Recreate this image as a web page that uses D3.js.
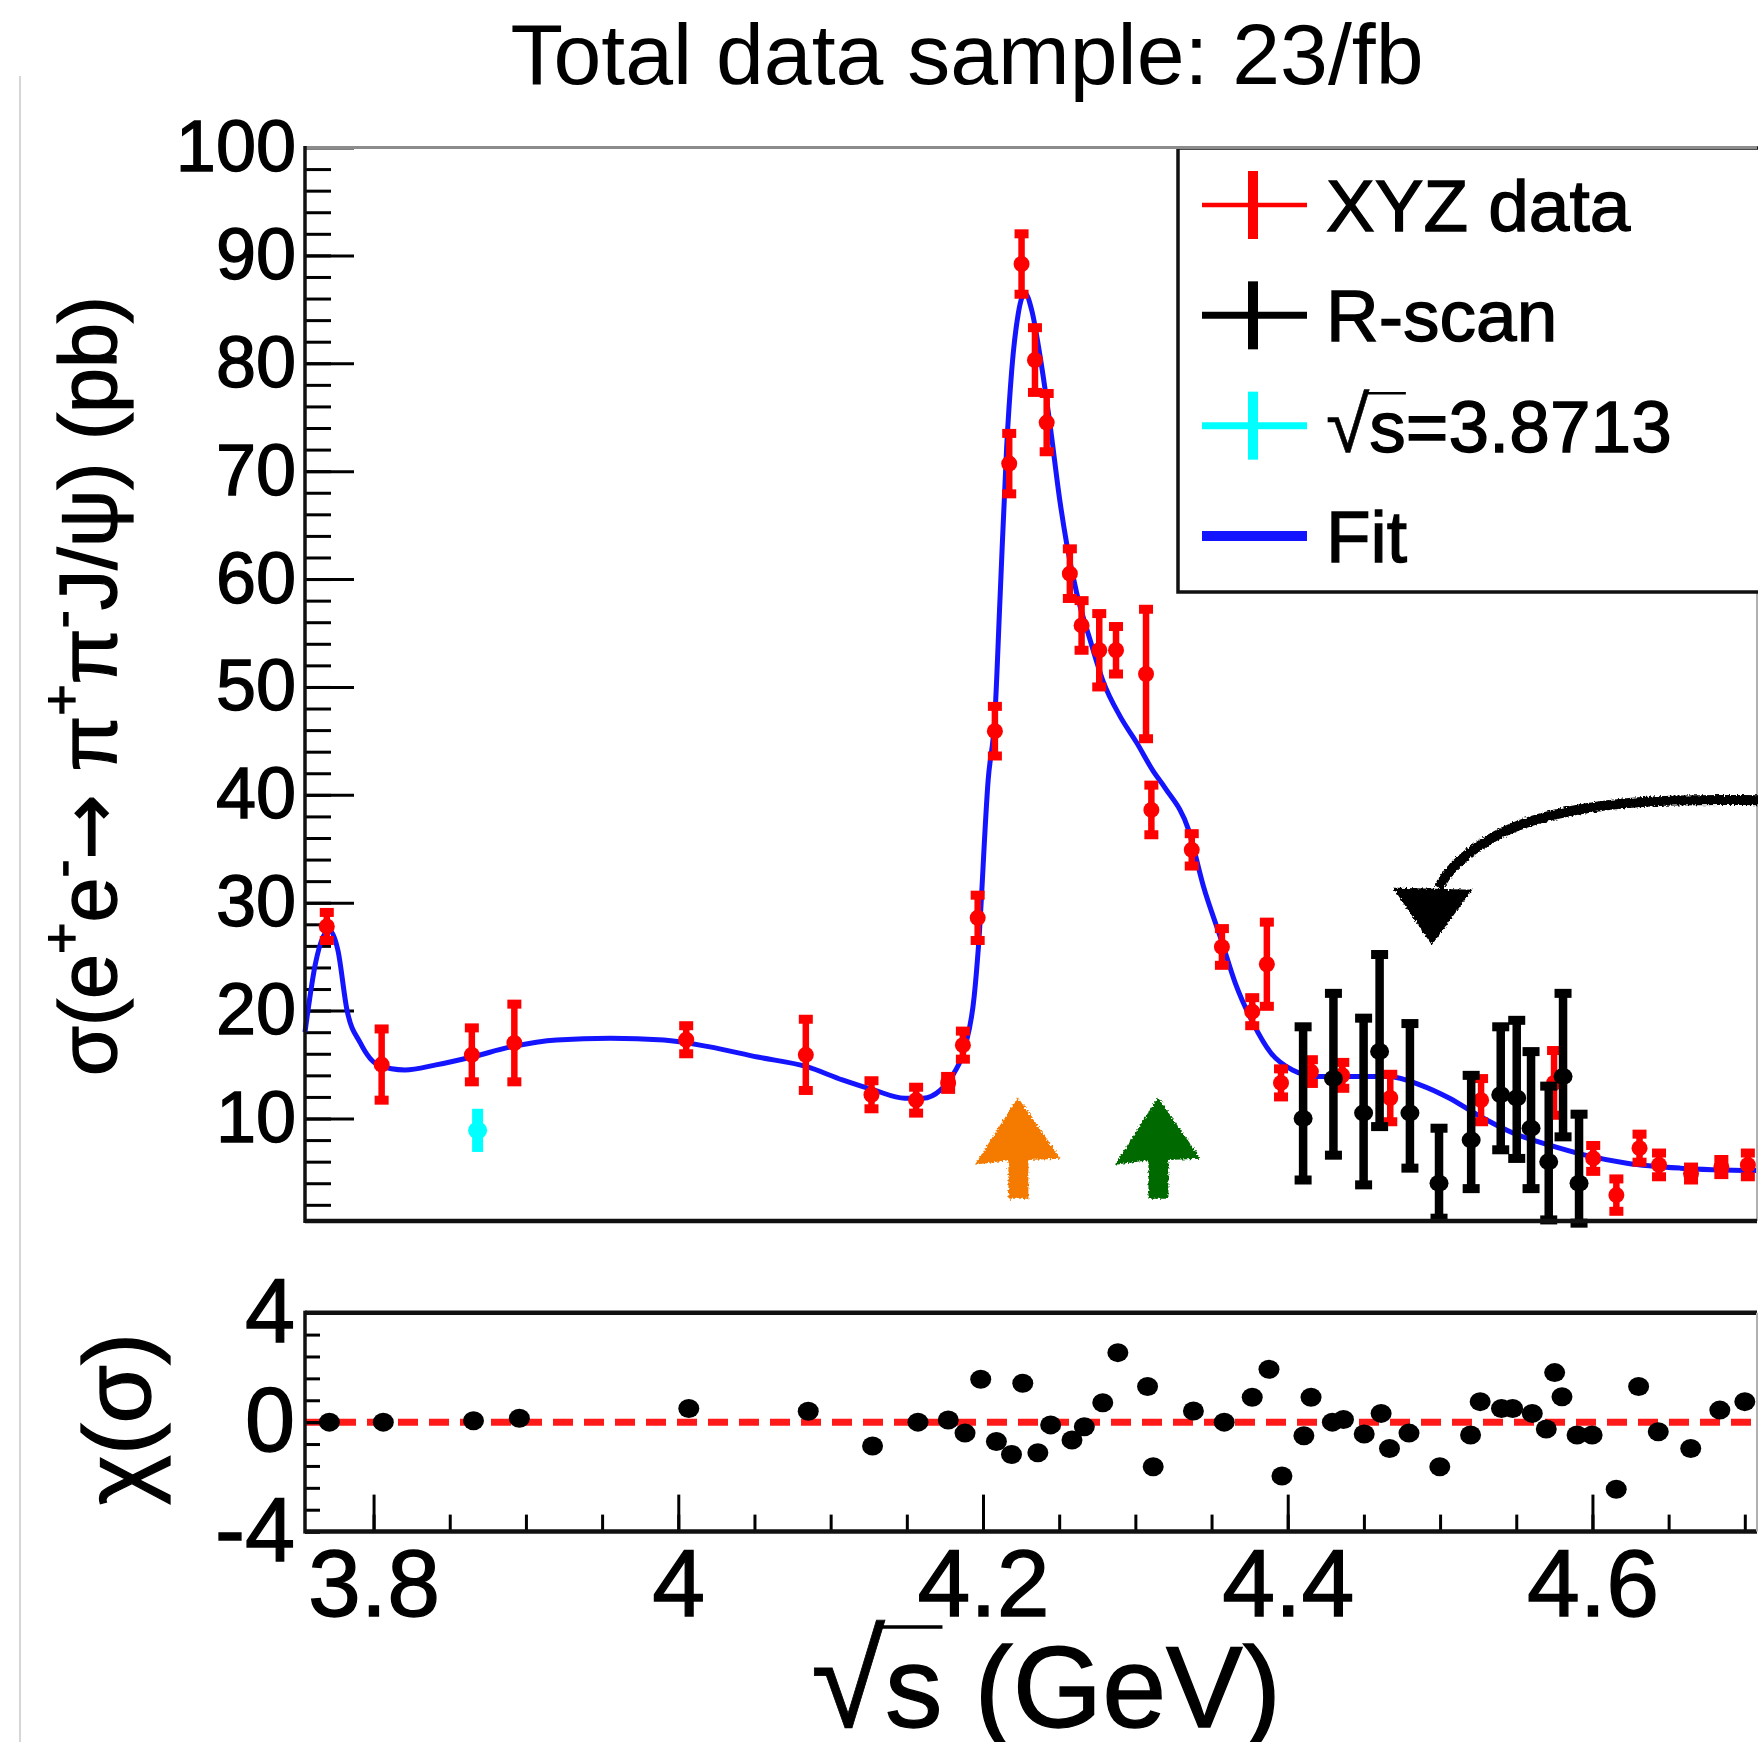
<!DOCTYPE html>
<html>
<head>
<meta charset="utf-8">
<script src="https://cdn.jsdelivr.net/npm/d3@7"></script>
<style>
  body { margin: 0; background: #fff; }
  text { font-family: "Liberation Sans", Arial, Helvetica, sans-serif; }
  .heavy text, text.heavy { stroke: #000; stroke-width: 1.3px; }
</style>
</head>
<body>
<svg id="chart"></svg>
<script>
let width = 1758;
let height = 1742;
let red = "#ff0000";
let blue = "#1414ff";
let cyan = "#00ffff";

// XYZ data (red)
const xyzEnergy = [3.7693, 3.8053, 3.8645, 3.8924, 4.0052, 4.0837, 4.1268, 4.1561, 4.1771, 4.1868,
  4.1965, 4.2078, 4.2172, 4.2253, 4.2341, 4.2418, 4.2570, 4.2647, 4.2763, 4.2873,
  4.3070, 4.3105, 4.3370, 4.3568, 4.3767, 4.3863, 4.3956, 4.4152, 4.4358, 4.4673,
  4.5269, 4.5748, 4.6005, 4.6157, 4.6309, 4.6437, 4.6647, 4.6846, 4.7020];
const xyzSigma = [27.8, 15.0, 15.9, 17.0, 17.3, 15.9, 12.2, 11.7, 13.3, 16.8,
  28.6, 45.9, 70.7, 89.2, 80.3, 74.5, 60.5, 55.7, 53.4, 53.4,
  51.2, 38.6, 34.9, 25.9, 19.9, 24.3, 13.3, 14.35, 14.0, 11.9,
  11.7, 13.3, 6.3, 2.9, 7.25, 5.7, 4.9, 5.5, 5.7];
const xyzError = [1.3, 3.3, 2.5, 3.6, 1.3, 3.3, 1.3, 1.2, 0.6, 1.3,
  2.1, 2.3, 2.8, 2.8, 3.0, 2.7, 2.3, 2.3, 3.4, 2.2,
  6.0, 2.3, 1.5, 1.7, 1.3, 3.9, 1.3, 1.1, 1.2, 2.2,
  2.0, 3.0, 1.2, 1.5, 1.3, 1.1, 0.6, 0.7, 1.1];

// R-scan data (black), asymmetric errors
const rscanEnergy = [4.4101, 4.4300, 4.4498, 4.4603, 4.4802, 4.4993, 4.5204, 4.5398, 4.5503, 4.5597, 4.5713, 4.5807, 4.5912];
const rscanSigma = [10.0, 13.7, 10.5, 16.2, 10.5, 4.0, 8.0, 12.2, 11.9, 9.1, 6.0, 13.9, 4.0];
const rscanErrDown = [5.7, 7.1, 6.65, 6.95, 5.1, 3.24, 4.5, 5.1, 5.6, 5.6, 5.4, 5.6, 3.7];
const rscanErrUp = [8.5, 7.9, 8.8, 9.0, 8.3, 5.1, 6.0, 6.3, 7.2, 7.1, 7.0, 7.7, 6.4];

// sqrt(s) = 3.8713 point (cyan)
const cyanEnergy = [3.8683];
const cyanSigma = [8.9];
const cyanError = [2.0];

// fit curve (blue)
const fitEnergy = [3.7550, 3.7619, 3.7707, 3.7766, 3.7825, 3.7913, 3.8030, 3.8206, 3.8410, 3.8645,
  3.8908, 3.9202, 3.9554, 3.9905, 4.0198, 4.0520, 4.0843, 4.1077, 4.1282, 4.1487,
  4.1605, 4.1722, 4.1809, 4.1883, 4.1942, 4.1970, 4.2034, 4.2078, 4.2111, 4.2155,
  4.2188, 4.2231, 4.2275, 4.2320, 4.2374, 4.2440, 4.2505, 4.2549, 4.2615, 4.2702,
  4.2789, 4.2899, 4.3008, 4.3117, 4.3197, 4.3348, 4.3447, 4.3564, 4.3657, 4.3774,
  4.3891, 4.4031, 4.4194, 4.4428, 4.4662, 4.4872, 4.5059, 4.5246, 4.5479, 4.5713,
  4.5946, 4.6226, 4.6577, 4.7080];
const fitSigma = [18.0, 24.4, 27.5, 25.6, 20.1, 17.0, 14.97, 14.5, 14.97, 15.7,
  16.66, 17.28, 17.44, 17.28, 16.66, 15.7, 14.8, 13.58, 12.65, 11.88,
  11.88, 12.65, 14.2, 16.66, 21.3, 25.9, 41.4, 47.3, 57.97, 72.16,
  79.26, 84.57, 86.5, 84.9, 80.7, 74.3, 67.2, 63.3, 58.7, 54.4,
  50.5, 47.3, 44.85, 42.2, 40.6, 36.8, 31.5, 26.55, 22.5, 18.8,
  16.05, 14.5, 13.9, 13.9, 13.9, 13.1, 11.9, 10.33, 8.66, 7.55,
  6.63, 5.86, 5.4, 5.17];

// residuals chi(sigma)
const residualEnergy = [3.7710, 3.8064, 3.8656, 3.8957, 4.0069, 4.0853, 4.1275, 4.1573, 4.1772, 4.1882,
  4.1985, 4.2088, 4.2187, 4.2261, 4.2360, 4.2444, 4.2584, 4.2665, 4.2786, 4.2885,
  4.3080, 4.3117, 4.3381, 4.3583, 4.3767, 4.3877, 4.3962, 4.4106, 4.4153, 4.4293,
  4.4366, 4.4502, 4.4613, 4.4668, 4.4796, 4.4998, 4.5200, 4.5263, 4.5403, 4.5476,
  4.5605, 4.5697, 4.5752, 4.5800, 4.5899, 4.5998, 4.6156, 4.6303, 4.6432, 4.6645,
  4.6836, 4.7000];
const residualChi = [0.0, 0.0, 0.05, 0.14, 0.5, 0.4, -0.87, 0.0, 0.08, -0.4,
  1.57, -0.71, -1.18, 1.42, -1.12, -0.1, -0.65, -0.17, 0.71, 2.54,
  1.3, -1.63, 0.41, 0.0, 0.91, 1.93, -1.97, -0.5, 0.91, 0.0,
  0.1, -0.43, 0.32, -0.96, -0.4, -1.63, -0.47, 0.75, 0.5, 0.5,
  0.32, -0.25, 1.81, 0.93, -0.47, -0.47, -2.45, 1.3, -0.35, -0.96,
  0.44, 0.75];

// axis ticks and labels
const xMajorTicks = [3.8, 4.0, 4.2, 4.4, 4.6];
const xTickLabels = ["3.8", "4", "4.2", "4.4", "4.6"];
const xMinorTicks = d3.range(0, 19).map(i => +(3.8 + i * 0.05).toFixed(2));
const yMajorTicks = d3.range(10, 101, 10);
const yMinorTicks = d3.range(2, 100, 2);
const resMajorTicks = [-4, 0, 4];
const resMinorTicks = d3.range(0, 11).map(i => +(-4 + i * 0.8).toFixed(1));

const legendLabels = ["XYZ data", "R-scan", "s=3.8713", "Fit"];
const legendColors = [red, "#000", cyan, blue];

// hand drawn annotations, in data units: [energy, sigma]
const upArrows = [{e: 4.2229, color: "#f47a00"}, {e: 4.3148, color: "#006b00"}];
const bigArrowPath = [[4.712, 39.5], [4.627, 39.6], [4.5625, 38.0], [4.529, 35.8], [4.507, 33.3], [4.499, 31.4]];
const bigArrowHead = [[4.4716, 31.2], [4.5186, 31.03], [4.4946, 26.4]];

let svg = d3.select("#chart")
  .attr("width", width)
  .attr("height", height);

let defs = svg.append("defs");
let rough = defs.append("filter").attr("id", "rough")
  .attr("x", "-10%").attr("y", "-10%").attr("width", "120%").attr("height", "120%");
rough.append("feTurbulence").attr("type", "fractalNoise").attr("baseFrequency", 0.5)
  .attr("numOctaves", 2).attr("result", "noise");
rough.append("feDisplacementMap").attr("in", "SourceGraphic").attr("in2", "noise")
  .attr("scale", 5).attr("xChannelSelector", "R").attr("yChannelSelector", "G");

let left = 305, right = 1757;
let xax = d3.scaleLinear().domain([3.755, 4.708]).range([left, right]);
let yax = d3.scaleLinear().domain([0.5, 100]).range([1221, 147.5]);
let rax = d3.scaleLinear().domain([-4, 4]).range([1531.6, 1312.7]);

// thin grey page edge on the left
svg.append("line")
  .attr("x1", 20).attr("x2", 20).attr("y1", 76).attr("y2", height)
  .attr("stroke", "#c8c8c8").attr("stroke-width", 1.5);

// title
svg.append("text")
  .text("Total data sample: 23/fb")
  .attr("x", 967)
  .attr("y", 84)
  .attr("text-anchor", "middle")
  .attr("font-size", 86);

// ---------- upper panel ----------
let upper = svg.append("g").attr("class", "heavy");

upper.append("g")
  .attr("transform", `translate(${left},0)`)
  .call(d3.axisLeft(yax).tickValues(yMinorTicks).tickSize(-26).tickSizeOuter(0).tickFormat(""))
  .call(g => g.select(".domain").remove())
  .call(g => g.selectAll("line").attr("stroke-width", 3));

upper.append("g")
  .attr("transform", `translate(${left},0)`)
  .call(d3.axisLeft(yax).tickValues(yMajorTicks).tickSize(-49).tickSizeOuter(0).tickPadding(9)
    .tickFormat(d => String(d)))
  .call(g => g.select(".domain").remove())
  .call(g => g.selectAll("line").attr("stroke-width", 3))
  .call(g => g.selectAll("text").attr("font-size", 72).attr("fill", "#000")
    .attr("font-family", "'Liberation Sans', Arial, sans-serif"));

// fit curve
upper.append("path")
  .attr("d", d3.line()
    .x((d, i) => xax(fitEnergy[i]))
    .y(d => yax(d))
    .curve(d3.curveMonotoneX)(fitSigma))
  .attr("fill", "none")
  .attr("stroke", blue)
  .attr("stroke-width", 5);

function drawPoints(g, energy, sigma, down, up, color, o) {
  let pts = g.append("g").selectAll("g")
    .data(energy)
    .enter().append("g");
  pts.append("line")
    .attr("x1", d => xax(d)).attr("x2", d => xax(d))
    .attr("y1", (d, i) => yax(sigma[i] - down[i]))
    .attr("y2", (d, i) => yax(sigma[i] + up[i]))
    .attr("stroke", color)
    .attr("stroke-width", o.bar);
  if (o.cap) {
    [-1, 1].forEach(s => {
      pts.append("rect")
        .attr("x", d => xax(d) - o.cap / 2)
        .attr("y", (d, i) => yax(s < 0 ? sigma[i] - down[i] : sigma[i] + up[i]) - o.capH / 2)
        .attr("width", o.cap)
        .attr("height", o.capH)
        .attr("fill", color);
    });
  }
  pts.append("ellipse")
    .attr("cx", d => xax(d))
    .attr("cy", (d, i) => yax(sigma[i]))
    .attr("rx", o.r)
    .attr("ry", o.ry || o.r)
    .attr("fill", color);
}

drawPoints(upper, xyzEnergy, xyzSigma, xyzError, xyzError, red, {bar: 6.5, cap: 14, capH: 9, r: 8});
drawPoints(upper, cyanEnergy, cyanSigma, cyanError, cyanError, cyan, {bar: 11, cap: 0, r: 9.5, ry: 8.5});
drawPoints(upper, rscanEnergy, rscanSigma, rscanErrDown, rscanErrUp, "#000", {bar: 8.5, cap: 17, capH: 9, r: 9.5, ry: 8.5});

// frame
upper.append("line").attr("x1", right).attr("x2", right).attr("y1", 147.5).attr("y2", 1221)
  .attr("stroke", "#b0b0b0").attr("stroke-width", 2);

// legend
let legend = upper.append("g");
legend.append("rect")
  .attr("x", 1178).attr("y", 148).attr("width", 640).attr("height", 444)
  .attr("fill", "#fff").attr("stroke", "#111").attr("stroke-width", 3.5);
upper.append("line").attr("x1", left).attr("x2", right).attr("y1", 147.5).attr("y2", 147.5)
  .attr("stroke", "#8c8c8c").attr("stroke-width", 3);

let legY = d3.scalePoint().domain(legendLabels).range([205, 536]);
legendLabels.forEach((lab, i) => {
  let cy = legY(lab);
  let c = legendColors[i];
  if (i < 3) {
    legend.append("line").attr("x1", 1202).attr("x2", 1307).attr("y1", cy).attr("y2", cy)
      .attr("stroke", c).attr("stroke-width", i == 0 ? 4.5 : 7);
    legend.append("line").attr("x1", 1253).attr("x2", 1253).attr("y1", cy - 34).attr("y2", cy + 34)
      .attr("stroke", c).attr("stroke-width", 10);
  } else {
    legend.append("line").attr("x1", 1202).attr("x2", 1307).attr("y1", cy).attr("y2", cy)
      .attr("stroke", c).attr("stroke-width", 10);
  }
  let t = legend.append("text")
    .attr("x", 1326)
    .attr("y", cy + 26)
    .attr("font-size", 73);
  if (i == 2) {
    t.append("tspan").text("√").attr("font-size", 79).attr("stroke-width", 0.6);
    t.append("tspan").text(lab);
    // bar of the radical, over the "s"
    let n = t.node();
    let rb = n.getExtentOfChar(0);
    let sb = n.getExtentOfChar(1);
    legend.append("line")
      .attr("x1", rb.x + rb.width - 4).attr("x2", sb.x + sb.width)
      .attr("y1", cy + 26 - 0.74 * 79).attr("y2", cy + 26 - 0.74 * 79)
      .attr("stroke", "#000").attr("stroke-width", 2.5);
  } else {
    t.text(lab);
  }
});

// upper left and bottom axis lines
upper.append("line").attr("x1", left).attr("x2", left).attr("y1", 146).attr("y2", 1223)
  .attr("stroke", "#111").attr("stroke-width", 3.5);
upper.append("line").attr("x1", left).attr("x2", right).attr("y1", 1221).attr("y2", 1221)
  .attr("stroke", "#111").attr("stroke-width", 4.5);

// y title
let yt = upper.append("text")
  .attr("transform", `translate(116,686) rotate(-90)`)
  .attr("text-anchor", "middle")
  .attr("font-size", 81);
[["σ(e", 0], ["+", 1], ["e", 0], ["-", 1], ["→", 2], [" π", 0], ["+", 1], ["π", 0], ["-", 1], ["J/ψ) (pb)", 0]]
  .forEach((p, i, arr) => {
    let ts = yt.append("tspan").text(p[0]);
    if (p[1] == 1) ts.attr("font-size", 54).attr("dy", -36);
    else {
      if (i > 0 && arr[i - 1][1] == 1) ts.attr("dy", 36);
      if (p[1] == 2) ts.attr("font-family", "'DejaVu Sans', sans-serif").attr("font-size", 78);
    }
  });

// hand drawn arrows
upArrows.forEach(a => {
  let cx = xax(a.e);
  let pts = [
    [cx, yax(11.7)], [cx + 40, yax(6.4)], [cx + 9, yax(6.3)], [cx + 9, yax(2.7)],
    [cx - 8, yax(2.7)], [cx - 8, yax(6.3)], [cx - 40, yax(5.9)]
  ];
  upper.append("path")
    .attr("d", d3.line().curve(d3.curveLinearClosed)(pts))
    .attr("fill", a.color)
    .attr("stroke", a.color)
    .attr("stroke-width", 3)
    .attr("filter", "url(#rough)");
});

upper.append("path")
  .attr("d", d3.line().x(d => xax(d[0])).y(d => yax(d[1])).curve(d3.curveBasis)(bigArrowPath))
  .attr("fill", "none")
  .attr("stroke", "#000")
  .attr("stroke-width", 10)
  .attr("filter", "url(#rough)");
upper.append("path")
  .attr("d", d3.line().x(d => xax(d[0])).y(d => yax(d[1])).curve(d3.curveLinearClosed)(bigArrowHead))
  .attr("fill", "#000")
  .attr("stroke", "#000")
  .attr("stroke-width", 4)
  .attr("filter", "url(#rough)");

// ---------- lower panel ----------
let lower = svg.append("g").attr("class", "heavy");

lower.append("line")
  .attr("x1", left).attr("x2", right).attr("y1", rax(0)).attr("y2", rax(0))
  .attr("stroke", "#ff1a1a").attr("stroke-width", 7).attr("stroke-dasharray", "20 11");

lower.append("g").selectAll("ellipse")
  .data(residualEnergy)
  .enter().append("ellipse")
    .attr("cx", d => xax(d))
    .attr("cy", (d, i) => rax(residualChi[i]))
    .attr("rx", 10.5)
    .attr("ry", 9.5)
    .attr("fill", "#000");

lower.append("g")
  .attr("transform", `translate(${left},0)`)
  .call(d3.axisLeft(rax).tickValues(resMinorTicks).tickSize(-15).tickSizeOuter(0).tickFormat(""))
  .call(g => g.select(".domain").remove())
  .call(g => g.selectAll("line").attr("stroke-width", 3));
lower.append("g")
  .attr("transform", `translate(${left},0)`)
  .call(d3.axisLeft(rax).tickValues(resMajorTicks).tickSize(-15).tickSizeOuter(0).tickPadding(10)
    .tickFormat(d => String(d)))
  .call(g => g.select(".domain").remove())
  .call(g => g.selectAll("line").attr("stroke-width", 3))
  .call(g => g.selectAll("text").attr("font-size", 90).attr("fill", "#000")
    .attr("font-family", "'Liberation Sans', Arial, sans-serif"));

lower.append("g")
  .attr("transform", `translate(0,${rax(-4)})`)
  .call(d3.axisBottom(xax).tickValues(xMinorTicks).tickSize(-17).tickSizeOuter(0).tickFormat(""))
  .call(g => g.select(".domain").remove())
  .call(g => g.selectAll("line").attr("stroke-width", 3));
lower.append("g")
  .attr("transform", `translate(0,${rax(-4)})`)
  .call(d3.axisBottom(xax).tickValues(xMajorTicks).tickSize(-37).tickSizeOuter(0).tickPadding(17)
    .tickFormat((d, i) => xTickLabels[i]))
  .call(g => g.select(".domain").remove())
  .call(g => g.selectAll("line").attr("stroke-width", 3))
  .call(g => g.selectAll("text").attr("font-size", 95).attr("fill", "#000")
    .attr("font-family", "'Liberation Sans', Arial, sans-serif"));

// frame
lower.append("line").attr("x1", left).attr("x2", right).attr("y1", rax(4)).attr("y2", rax(4))
  .attr("stroke", "#111").attr("stroke-width", 4.5);
lower.append("line").attr("x1", left).attr("x2", right).attr("y1", rax(-4)).attr("y2", rax(-4))
  .attr("stroke", "#111").attr("stroke-width", 4.5);
lower.append("line").attr("x1", left).attr("x2", left).attr("y1", rax(4) - 2).attr("y2", rax(-4) + 2)
  .attr("stroke", "#111").attr("stroke-width", 3.5);
lower.append("line").attr("x1", right).attr("x2", right).attr("y1", rax(4)).attr("y2", rax(-4))
  .attr("stroke", "#b0b0b0").attr("stroke-width", 2);

lower.append("text")
  .attr("transform", `translate(150,1419) rotate(-90)`)
  .attr("text-anchor", "middle")
  .attr("font-size", 95)
  .text("χ(σ)");

// x title with radical
let xt = lower.append("text")
  .attr("x", 1046)
  .attr("y", 1727)
  .attr("text-anchor", "middle")
  .attr("font-size", 115);
xt.append("tspan").text("√").attr("font-size", 135).attr("stroke-width", 0.8);
xt.append("tspan").text("s (GeV)");
{
  let n = xt.node();
  let rb = n.getExtentOfChar(0);
  let sb = n.getExtentOfChar(1);
  lower.append("line")
    .attr("x1", rb.x + rb.width - 6).attr("x2", sb.x + sb.width)
    .attr("y1", 1727 - 0.74 * 135).attr("y2", 1727 - 0.74 * 135)
    .attr("stroke", "#000").attr("stroke-width", 3.5);
}
</script>
</body>
</html>
